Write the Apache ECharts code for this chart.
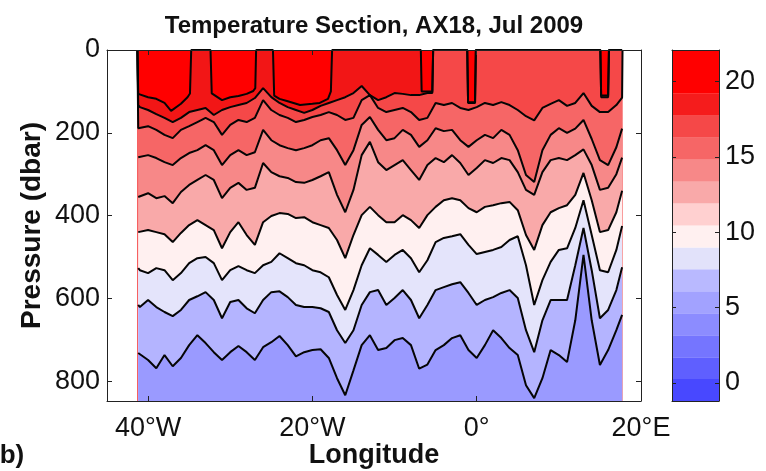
<!DOCTYPE html>
<html>
<head>
<meta charset="utf-8">
<script src="https://cdn.jsdelivr.net/npm/echarts/dist/echarts.min.js"></script>
<style>
html, body { margin: 0; padding: 0; background: #fff; }
#chart { width: 766px; height: 471px; }
</style>
</head>
<body>
<div id="chart"></div>
<script>
// longitude grid (deg, negative = W) used by the deeper isotherms
var LON = [-41.2, -41, -40, -39, -38, -37, -36, -35, -34, -33, -32, -31, -30, -29, -28, -27, -26, -25, -24, -23,
  -22, -21, -20, -19, -18, -17, -16, -15, -14, -13, -12, -11, -10, -9, -8, -7, -6, -5, -4, -3,
  -2, -1, 0, 1, 2, 3, 4, 5, 6, 7, 8, 9, 10, 11, 12, 13, 14, 15, 16, 17, 17.7];

// upper isotherms, [lon, pressure] (they outcrop to 0 dbar in places)
var ISO_A = [[-41.3,0],[-41.2,106],[-41,108],[-40,114],[-39,118],[-38,128],[-37.2,147],[-36,130],[-35.2,114],[-34.9,105],[-34.75,0],
  [-32.4,0],[-32.25,105],[-31,121],[-30,114],[-29,111],[-28,106],[-27.2,99],[-26.95,92],[-26.85,0],[-24.8,0],
  [-24.65,110],[-24,118],[-23,124],[-22,130],[-21.5,133],[-20,130],[-19.1,128],[-18.1,118],[-17.75,100],[-17.6,0],
  [-6.8,0],[-6.7,100],[-5.4,100],[-5.3,0],[-1.15,0],[-1.05,126],[-0.2,126],[-0.1,0],[15.05,0],[15.15,110],
  [16.0,110],[16.1,0],[17.7,0]];
var ISO_B = [[-41.3,0],[-41.2,133],[-41,138],[-40,145],[-39,155],[-38,164],[-37,174],[-36,164],[-35,150],[-34,145],[-33,140],
  [-32,157],[-31,145],[-30,138],[-29,133],[-28,128],[-27,116],[-26,92],[-25,114],[-24,128],[-23,138],
  [-22,145],[-21,152],[-20,145],[-19,135],[-18,128],[-17,121],[-16,114],[-15,104],[-14,87],[-13,109],
  [-12,121],[-11,114],[-10,104],[-9,106],[-8,109],[-7,109],[-6,104],[-5.4,104],[-5.3,0],[-1.15,0],
  [-1.05,128],[-0.2,128],[-0.1,0],[15.05,0],[15.15,114],[16.0,114],[16.1,0],[17.7,0]];
var ISO_C = [[-41.3,0],[-41.2,189],[-41,189],[-40,184],[-39,193],[-38,205],[-37,213],[-36,193],[-35,184],[-34,174],[-33,164],
  [-32,174],[-31,205],[-30,181],[-29,169],[-28,174],[-27,164],[-26,121],[-25,145],[-24,157],[-23,164],
  [-22,174],[-21,169],[-20,162],[-19,157],[-18,150],[-17,157],[-16,169],[-15,164],[-14,121],[-13,109],
  [-12,140],[-11,150],[-10,145],[-9,140],[-8,150],[-7,169],[-6,164],[-5,128],[-4,133],[-3,128],
  [-2,140],[-1,145],[0,138],[1,128],[2,133],[3,126],[4,133],[5,145],[6,160],[7,170],
  [8,140],[9,130],[10,121],[11,135],[12,128],[13,104],[14,135],[15,150],[16,150],[17,133],[17.7,115],[17.75,0]];

// deeper isotherms, pressure (dbar) at each LON
var ISO_D = [259,259,254,261,271,278,261,249,242,230, 242,278,254,242,254,247,193,218,230,237,
  242,237,230,218,213,242,278,242,181,162, 193,218,213,193,205,234,218,189,196,193,
  218,234,218,205,213,193,205,242,302,319, 242,205,189,200,190,169,215,266,278,235, 190];
var ISO_E = [355,355,346,358,353,370,343,326,314,302, 314,358,333,321,338,333,273,295,305,309,
  319,321,314,305,295,350,392,338,254,222, 271,290,278,266,290,314,278,261,271,254,
  273,302,285,266,273,261,266,295,338,350, 295,266,261,266,254,240,278,338,333,300, 260];
var ISO_F = [440,442,435,440,445,464,442,423,411,423, 435,479,440,416,447,471,416,401,394,396,
  406,404,416,423,430,459,503,447,399,379, 399,416,416,399,411,430,399,379,363,358,
  363,382,392,379,375,370,367,387,447,483, 423,392,382,375,350,297,363,440,435,392, 340];
var ISO_G = [527,532,539,527,532,556,539,515,503,500, 515,556,532,522,532,539,520,512,491,503,
  515,520,532,537,549,592,628,580,520,479, 495,512,495,483,503,537,508,464,454,450,
  445,471,493,488,483,476,459,450,520,616, 556,512,483,479,430,363,447,532,537,483, 425];
var ISO_H = [616,621,604,621,633,643,628,604,595,585, 604,648,609,604,624,636,604,585,583,597,
  616,621,621,624,633,677,708,677,616,585, 580,616,599,580,604,648,616,580,573,566,
  561,587,616,604,597,587,580,599,677,730, 653,604,604,604,520,430,532,648,628,580, 525];
var ISO_I = [732,732,749,769,737,764,744,713,689,708, 730,749,730,715,730,749,718,706,691,713,
  740,730,725,723,744,793,834,774,713,689, 725,720,701,696,713,770,760,725,713,696,
  689,725,744,713,677,696,720,737,810,841, 793,725,737,754,653,495,653,761,725,677, 640];

// fill colour below each isotherm (first = surface layer)
var BAND_COLORS = ['#ff0000', '#f21616', '#f54848', '#f66666', '#f78888', '#f9a9a9',
  '#fff0f0', '#e4e4fb', '#b4b4ff', '#9a9aff'];

// colour bar
var CB_EDGES = [-1.2, 0.26, 1.71, 3.17, 4.63, 6.08, 7.54, 8.99, 10.45, 11.91, 13.36, 14.82, 16.27, 17.73, 19.19, 20.64, 22.1];
var CB_COLORS = ['#4848ff', '#5f5fff', '#7575ff', '#8c8cff', '#a2a2ff', '#b9b9ff', '#e2e2fa', '#fff0f0',
  '#ffd0d0', '#f9a9a9', '#f78888', '#f66666', '#f54848', '#f51c1c', '#ff0000', '#ff0000'];

var X_TICKS = [-40, -20, 0, 20];
var P_TICKS = [0, 200, 400, 600, 800];
var CB_TICKS = [0, 5, 10, 15, 20];

var FONT = "'Liberation Sans', Arial, Helvetica, sans-serif";
var INK = '#111';

function onGrid(vals) {
  return vals.map(function (p, i) { return [LON[i], p]; });
}
function lonLabel(v) {
  if (v < 0) return (-v) + '°W';
  if (v > 0) return v + '°E';
  return '0°';
}

var surface = [[LON[0], 0], [LON[LON.length - 1], 0]];
var isolines = [ISO_A, ISO_B, ISO_C, onGrid(ISO_D), onGrid(ISO_E), onGrid(ISO_F),
  onGrid(ISO_G), onGrid(ISO_H), onGrid(ISO_I)];

var series = [];
[surface].concat(isolines).forEach(function (d, i) {
  series.push({
    type: 'line', data: d, xAxisIndex: 0, yAxisIndex: 0,
    symbol: 'none', silent: true, z: 2 + i,
    lineStyle: { width: 0, opacity: 0 },
    areaStyle: { color: BAND_COLORS[i], opacity: 1, origin: 'end' }
  });
});
isolines.forEach(function (d) {
  series.push({
    type: 'line', data: d, xAxisIndex: 0, yAxisIndex: 0,
    symbol: 'none', silent: true, z: 30,
    lineStyle: { color: '#050505', width: 2 }
  });
});
series.push({
  type: 'custom', xAxisIndex: 2, yAxisIndex: 2, silent: true, z: 2,
  data: CB_COLORS.map(function (c, i) { return [CB_EDGES[i], CB_EDGES[i + 1], i]; }),
  encode: { y: [0, 1] },
  renderItem: function (params, api) {
    var a = api.coord([0, api.value(1)]);
    var b = api.coord([1, api.value(0)]);
    return {
      type: 'rect',
      shape: { x: a[0], y: a[1], width: b[0] - a[0], height: b[1] - a[1] },
      style: { fill: CB_COLORS[api.value(2)] }
    };
  }
});

var frameLine = { show: true, onZero: false, lineStyle: { color: '#222', width: 1 } };
var tickStyle = { color: '#222', width: 1 };
var labelFont = { fontFamily: FONT, fontSize: 27, color: INK };

var option = {
  animation: false,
  backgroundColor: '#fff',
  grid: [
    { left: 107, top: 50, width: 534, height: 351, outerBoundsMode: 'none', containLabel: false },
    { left: 672, top: 50, width: 47, height: 351, outerBoundsMode: 'none', containLabel: false }
  ],
  xAxis: [
    {
      gridIndex: 0, type: 'value', min: -45, max: 20, z: 50,
      axisLine: frameLine, splitLine: { show: false },
      axisTick: { inside: true, length: 5, lineStyle: tickStyle, customValues: X_TICKS },
      axisLabel: Object.assign({ margin: 14, customValues: X_TICKS, formatter: lonLabel }, labelFont),
      name: 'Longitude', nameLocation: 'middle', nameGap: 41, nameMoveOverlap: false,
      nameTextStyle: { fontFamily: FONT, fontSize: 27, fontWeight: 'bold', color: INK }
    },
    {
      gridIndex: 0, type: 'value', position: 'top', min: -45, max: 20, z: 50,
      axisLine: frameLine, splitLine: { show: false },
      axisTick: { inside: true, length: 5, lineStyle: tickStyle, customValues: X_TICKS },
      axisLabel: { show: false }
    },
    {
      gridIndex: 1, type: 'value', min: 0, max: 1, z: 50,
      axisLine: frameLine, splitLine: { show: false },
      axisTick: { show: false }, axisLabel: { show: false }
    },
    {
      gridIndex: 1, type: 'value', position: 'top', min: 0, max: 1, z: 50,
      axisLine: frameLine, splitLine: { show: false },
      axisTick: { show: false }, axisLabel: { show: false }
    }
  ],
  yAxis: [
    {
      gridIndex: 0, type: 'value', inverse: true, min: 0, max: 848, z: 50,
      axisLine: frameLine, splitLine: { show: false },
      axisTick: { inside: true, length: 5, lineStyle: tickStyle, customValues: P_TICKS },
      axisLabel: Object.assign({ margin: 7, customValues: P_TICKS }, labelFont),
      name: 'Pressure (dbar)', nameLocation: 'middle', nameGap: 61, nameMoveOverlap: false,
      nameTextStyle: { fontFamily: FONT, fontSize: 28, fontWeight: 'bold', color: INK }
    },
    {
      gridIndex: 0, type: 'value', position: 'right', inverse: true, min: 0, max: 848, z: 50,
      axisLine: frameLine, splitLine: { show: false },
      axisTick: { inside: true, length: 5, lineStyle: tickStyle, customValues: P_TICKS },
      axisLabel: { show: false }
    },
    {
      gridIndex: 1, type: 'value', min: -1.2, max: 22.1, z: 50,
      axisLine: frameLine, splitLine: { show: false },
      axisTick: { inside: true, length: 4, lineStyle: tickStyle, customValues: CB_TICKS },
      axisLabel: { show: false }
    },
    {
      gridIndex: 1, type: 'value', position: 'right', min: -1.2, max: 22.1, z: 50,
      axisLine: frameLine, splitLine: { show: false },
      axisTick: { inside: true, length: 4, lineStyle: tickStyle, customValues: CB_TICKS },
      axisLabel: Object.assign({ margin: 6, customValues: CB_TICKS }, labelFont)
    }
  ],
  graphic: [
    {
      type: 'text', x: 374, y: 26, silent: true,
      style: {
        text: 'Temperature Section, AX18, Jul 2009', fill: INK,
        font: 'bold 24px ' + FONT, textAlign: 'center', textVerticalAlign: 'middle',
        align: 'center', verticalAlign: 'middle'
      }
    },
    {
      type: 'text', x: -9, y: 456, silent: true,
      style: {
        text: '(b)', fill: INK, font: 'bold 26px ' + FONT,
        textAlign: 'left', textVerticalAlign: 'middle', align: 'left', verticalAlign: 'middle'
      }
    }
  ],
  series: series
};

var chart = echarts.init(document.getElementById('chart'));
chart.setOption(option);
window.addEventListener('resize', function () { chart.resize(); });
</script>
</body>
</html>
